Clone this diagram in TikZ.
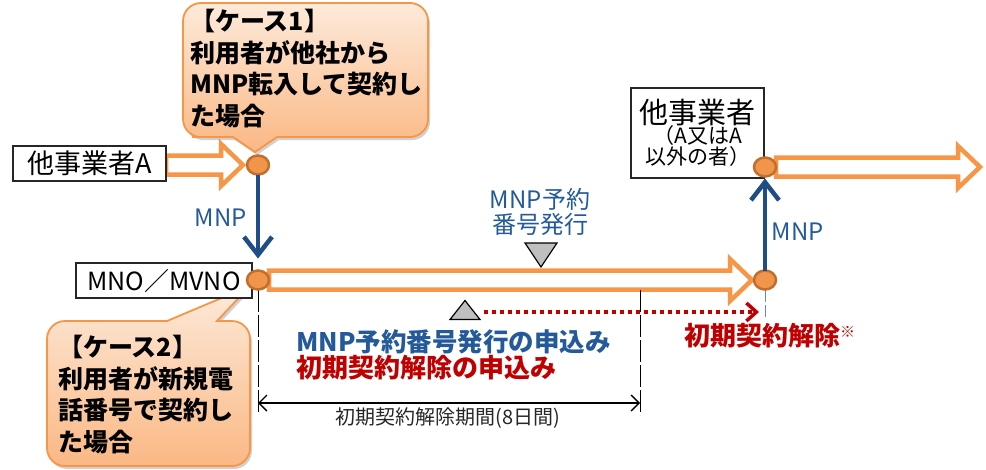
\documentclass[tikz,border=0pt]{standalone}
\usepackage{fontspec}
\setmainfont{Noto Sans CJK JP}
\usetikzlibrary{arrows.meta,calc,shapes.geometric}
\definecolor{org}{HTML}{F79646}
\definecolor{dotfill}{HTML}{F0954A}
\definecolor{dotdraw}{HTML}{C06F2C}
\definecolor{cotop}{HTML}{FDEADA}
\definecolor{cobot}{HTML}{FAB884}
\definecolor{barr}{HTML}{1F4E87}
\definecolor{btext}{HTML}{245A9A}
\definecolor{rtext}{HTML}{C00000}
\definecolor{tgray}{HTML}{BFBFBF}
\newcommand\fs[2]{\fontsize{#1}{#2}\selectfont}
\pgfdeclarelayer{bg}\pgfsetlayers{bg,main}
\newcommand\harrow[2]{\draw[hollow] let \p1=(#1), \p2=(#2) in
  (\x1,\y2+9.5pt) -- (\x2-22pt,\y2+9.5pt) -- (\x2-22pt,\y2+21pt) -- (\x2,\y2)
  -- (\x2-22pt,\y2-21pt) -- (\x2-22pt,\y2-9.5pt) -- (\x1,\y2-9.5pt) -- cycle;}
\begin{document}
\begin{tikzpicture}[x=1pt,y=-1pt,
  box/.style={draw=black!85, line width=1.1, fill=white, inner sep=0, outer sep=0},
  dot/.style={ellipse, minimum width=22, minimum height=19, inner sep=0, outer sep=0,
    fill=dotfill, draw=dotdraw, line width=2.5},
  hollow/.style={draw=org, line width=4.5, fill=white, line join=miter},
  callout/.style={draw=org, line width=1.8, top color=cotop, bottom color=cobot},
  cshadow/.style={fill=black, opacity=.18},
  ctext/.style={font=\bfseries\fs{25}{31.5}, align=left, inner sep=0, anchor=north west},
  bluearr/.style={draw=barr, line width=4.5, -{Straight Barb[length=18, width=28]}},
  btxt/.style={text=btext, inner sep=0},
  rtxt/.style={text=rtext, inner sep=0, font=\bfseries\fs{26}{26}},
  vdash/.style={draw=black, line width=0.9, dash pattern=on 22pt off 3pt},
  tri/.style={draw=black, line width=1.2, fill=tgray, line join=miter},
  redarr/.style={draw=rtext, line width=4, dash pattern=on 4pt off 4pt,
    -{Straight Barb[length=10, width=18, line width=3.5]}},
  dimarr/.style={draw=black, line width=1.4, {Straight Barb[length=8, width=16]}-{Straight Barb[length=8, width=16]}}
]
\useasboundingbox (0,0) rectangle (986,469);

% ---- callout 1 ----
\path[cshadow, xshift=2pt, yshift=-3pt] (233,137) -- (255,152) -- (277,137) -- (300,137) [rounded corners=18] -- (428,137) -- (428,3) -- (183,3) -- (183,137) -- (210,137) [sharp corners] -- cycle;
\path[callout] (233,137) -- (255,152) -- (277,137) -- (300,137) [rounded corners=18] -- (428,137) -- (428,3) -- (183,3) -- (183,137) -- (210,137) [sharp corners] -- cycle;
\node[ctext] (case1) at (190,9) {【ケース1】\\利用者が他社から\\MNP転入して契約し\\た場合};

% ---- callout 2 ----
\path[cshadow, xshift=2pt, yshift=-3pt] (167,321) -- (250,286) -- (217,321) -- (225,321) [rounded corners=18] -- (250,321) -- (250,466) -- (47,466) -- (47,321) -- (150,321) [sharp corners] -- cycle;
\path[callout] (167,321) -- (250,286) -- (217,321) -- (225,321) [rounded corners=18] -- (250,321) -- (250,466) -- (47,466) -- (47,321) -- (150,321) [sharp corners] -- cycle;
\node[ctext] (case2) at (58,335) {【ケース2】\\利用者が新規電\\話番号で契約し\\た場合};

% ---- boxes ----
\node[box, minimum width=153, minimum height=35, font=\fs{27}{27}] (boxA) at (89.5,163.5) {他事業者A};
\node[box, minimum width=176, minimum height=35, font=\fs{25}{25}] (mno) at (164,280.5) {MNO／MVNO};
\node[box, minimum width=133, minimum height=90, align=center] (boxB) at (697.5,133)
  {{\fs{29}{31}他事業者}\\[-1pt]{\fs{21}{25}（A又はA}\\{\fs{21}{25}以外の者）}};

% ---- dots ----
\node[dot] (c1) at (258,165) {};
\node[dot] (c2) at (258,280) {};
\node[dot] (c3) at (765,280) {};
\node[dot] (c4) at (765,167) {};
\coordinate (rend) at (980,167);

% ---- hollow arrows ----
\begin{pgfonlayer}{bg}
\harrow{boxA.east}{$(c1.west)+(-4,0)$}
\harrow{c2.east}{$(c3.west)+(-2,0)$}
\harrow{c4.east}{rend}
% dashed verticals
\coordinate (d1) at (258,413);
\coordinate (e1) at (640,290);
\coordinate (e2) at (640,415);
\coordinate (f2) at (765,318);
\draw[vdash] (c2.south) -- (d1);
\draw[vdash] (e1) -- (e2);
\draw[draw=btext!70, line width=0.9, dash pattern=on 12pt off 3pt] (c3.south) -- (f2);
\end{pgfonlayer}

% ---- blue MNP arrows ----
\draw[bluearr, shorten >=12] (c1.south) -- (c2.north);
\node[btxt, font=\fs{24}{24}] (mnp1) at (221,218) {MNP};
\draw[bluearr, shorten >=2] (c3.north) -- (c4.south);
\node[btxt, font=\fs{24}{24}] (mnp2) at (798,232) {MNP};

% ---- triangles ----
\coordinate (tu) at (465,310);
\draw[tri] ($(tu)+(-15,9.5)$) -- ($(tu)+(0,-9.5)$) -- ($(tu)+(15,9.5)$) -- cycle;
\coordinate (td) at (541,255);
\draw[tri] ($(td)+(-16,-12)$) -- ($(td)+(0,12)$) -- ($(td)+(16,-12)$) -- cycle;
\node[btxt, font=\fs{24}{25}, align=center] (issue) at (540,212) {MNP予約\\番号発行};

% ---- red dotted arrow ----
\coordinate (r1) at (484,312);
\coordinate (r2) at (759,312);
\draw[redarr] (r1) -- (r2);
\node[rtxt, anchor=west] (cancel) at (684,336) {初期契約解除\raisebox{8pt}{\fs{15}{15}※}};

% ---- requests ----
\node[btxt, anchor=west, font=\bfseries\fs{25.5}{25.5}] (req1) at (296,342) {MNP予約番号発行の申込み};
\node[rtxt, anchor=west] (req2) at (296,368) {初期契約解除の申込み};

% ---- period ----
\coordinate (p1) at (258,403);
\coordinate (p2) at (640,403);
\draw[dimarr] (p1) -- (p2);
\node[inner sep=0, font=\fs{20}{20}, text=black!85] (period) at (448,418) {初期契約解除期間(8日間)};
\end{tikzpicture}
\end{document}
